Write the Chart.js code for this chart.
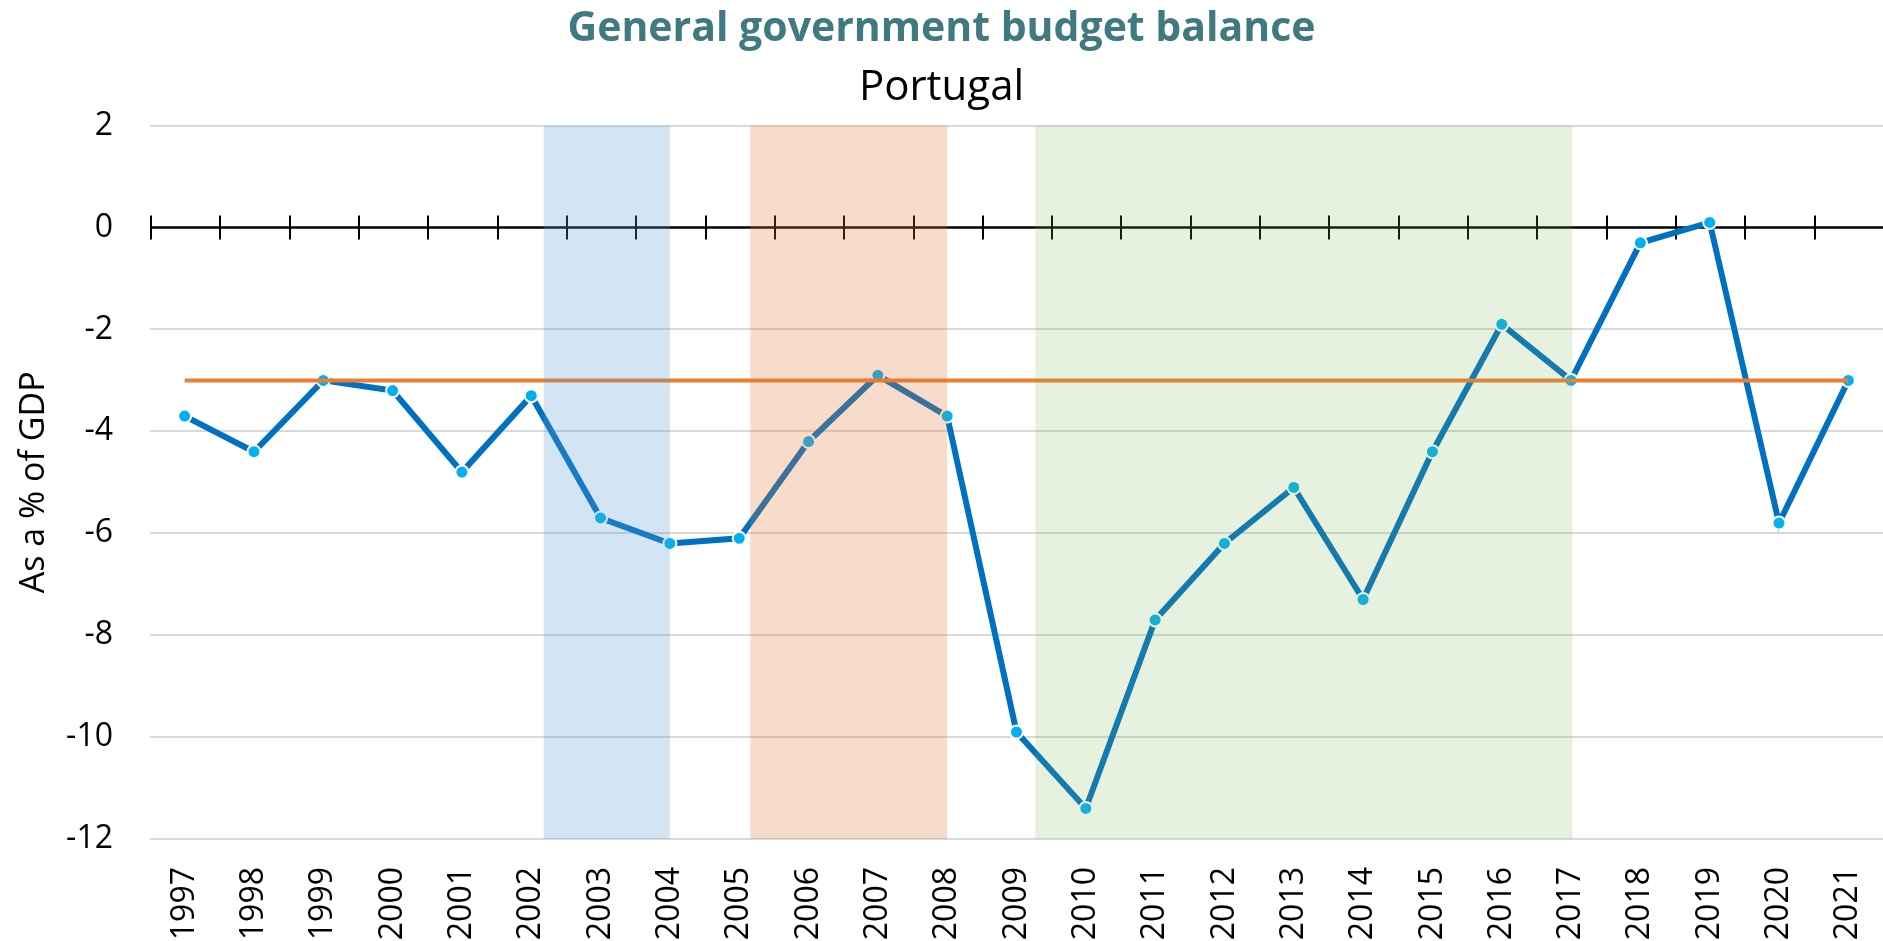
<!DOCTYPE html>
<html>
<head>
<meta charset="utf-8">
<script src="https://cdn.jsdelivr.net/npm/chart.js@4.4.0/dist/chart.umd.min.js"></script>
<style>
  body { margin: 0; background: #fff; }
  #wrap { width: 1883px; height: 941px; position: relative; }
</style>
</head>
<body>
<div id="wrap"><canvas id="myChart"></canvas></div>
<script>
'use strict';

const years = ['1997','1998','1999','2000','2001','2002','2003','2004','2005','2006','2007','2008','2009','2010','2011','2012','2013','2014','2015','2016','2017','2018','2019','2020','2021'];
const balance = [-3.7, -4.4, -3.0, -3.2, -4.8, -3.3, -5.7, -6.2, -6.1, -4.2, -2.9, -3.7, -9.9, -11.4, -7.7, -6.2, -5.1, -7.3, -4.4, -1.9, -3.0, -0.3, 0.1, -5.8, -3.0];
const limit = [-3, -3, -3, -3, -3, -3, -3, -3, -3, -3, -3, -3, -3, -3, -3, -3, -3, -3, -3, -3, -3, -3, -3, -3, -3];
const yTicks = [2, 0, -2, -4, -6, -8, -10, -12];

// shaded periods (fractional years)
const bandFrom = [2002.18, 2005.16, 2009.27];
const bandTo = [2004.0, 2008.0, 2017.02];
const bandColors = ['rgba(92,155,211,0.27)', 'rgba(228,120,55,0.26)', 'rgba(116,177,83,0.18)'];

const firstYear = Number(years[0]);

// black zero line with tick marks between the years
const zeroAxis = {
  id: 'zeroAxis',
  beforeDatasetsDraw(chart) {
    const ctx = chart.ctx;
    const x = chart.scales.x;
    const y0 = chart.scales.y.getPixelForValue(0);
    const area = chart.chartArea;
    ctx.save();
    ctx.strokeStyle = '#000';
    ctx.lineWidth = 2.5;
    ctx.beginPath();
    ctx.moveTo(area.left, y0);
    ctx.lineTo(area.right, y0);
    ctx.stroke();
    ctx.lineWidth = 2;
    for (let i = 0; i <= years.length; i++) {
      const px = Math.round(x.getPixelForValue(i - 0.5)) + 1;
      ctx.beginPath();
      ctx.moveTo(px, y0 - 12);
      ctx.lineTo(px, y0 + 12);
      ctx.stroke();
    }
    ctx.restore();
  }
};

const bands = {
  id: 'bands',
  afterDatasetsDraw(chart) {
    const ctx = chart.ctx;
    const x = chart.scales.x;
    const area = chart.chartArea;
    ctx.save();
    for (let i = 0; i < bandFrom.length; i++) {
      const x1 = x.getPixelForValue(bandFrom[i] - firstYear);
      const x2 = x.getPixelForValue(bandTo[i] - firstYear);
      ctx.fillStyle = bandColors[i];
      ctx.fillRect(x1, area.top, x2 - x1, area.bottom - area.top);
    }
    ctx.restore();
  }
};

const data = {
  labels: years,
  datasets: [
    {
      label: 'Limit',
      data: limit,
      borderColor: '#ED7D31',
      borderWidth: 4,
      pointRadius: 0,
      order: 0
    },
    {
      label: 'Budget balance',
      data: balance,
      borderColor: '#0070C0',
      borderWidth: 6,
      pointRadius: 6.5,
      pointBackgroundColor: '#00B0F0',
      pointBorderColor: '#ffffff',
      pointBorderWidth: 2,
      order: 1
    }
  ]
};

const config = {
  type: 'line',
  data: data,
  options: {
    responsive: true,
    maintainAspectRatio: false,
    animation: false,
    layout: { autoPadding: false, padding: { left: 0, right: 0, top: 0, bottom: 0 } },
    plugins: {
      legend: { display: false },
      tooltip: { enabled: false },
      title: {
        display: true,
        text: 'General government budget balance',
        color: '#3E7A80',
        font: { family: 'Open Sans', size: 41, weight: 'bold' },
        padding: { top: 5, bottom: 0 }
      },
      subtitle: {
        display: true,
        text: 'Portugal',
        color: '#000',
        font: { family: 'Open Sans', size: 42 },
        padding: { top: 9, bottom: 12 }
      }
    },
    scales: {
      x: {
        offset: true,
        grid: { display: false },
        border: { display: false },
        ticks: {
          color: '#000',
          font: { family: 'Open Sans', size: 32 },
          minRotation: 90,
          maxRotation: 90,
          autoSkip: false,
          padding: 20
        },
        afterFit(scale) {
          scale.height = 102;
          scale.paddingLeft = 0;
          scale.paddingRight = 0;
        }
      },
      y: {
        min: -12,
        max: 2,
        afterBuildTicks(scale) {
          scale.ticks = yTicks.map(v => ({ value: v }));
        },
        grid: {
          color: ctx => ctx.tick && ctx.tick.value === 0 ? 'rgba(0,0,0,0)' : '#D9D9D9',
          lineWidth: 2,
          drawTicks: false
        },
        border: { display: false },
        ticks: {
          color: '#000',
          font: { family: 'Open Sans', size: 32 },
          padding: 37
        },
        title: {
          display: true,
          text: 'As a % of GDP',
          color: '#000',
          font: { family: 'Open Sans', size: 34 },
          padding: { top: 14, bottom: 0 }
        },
        afterFit(scale) { scale.width = 150; }
      }
    }
  },
  plugins: [zeroAxis, bands]
};

let canvasChart = document.getElementById('myChart');
const myChart = new Chart(canvasChart, config);
</script>
</body>
</html>
